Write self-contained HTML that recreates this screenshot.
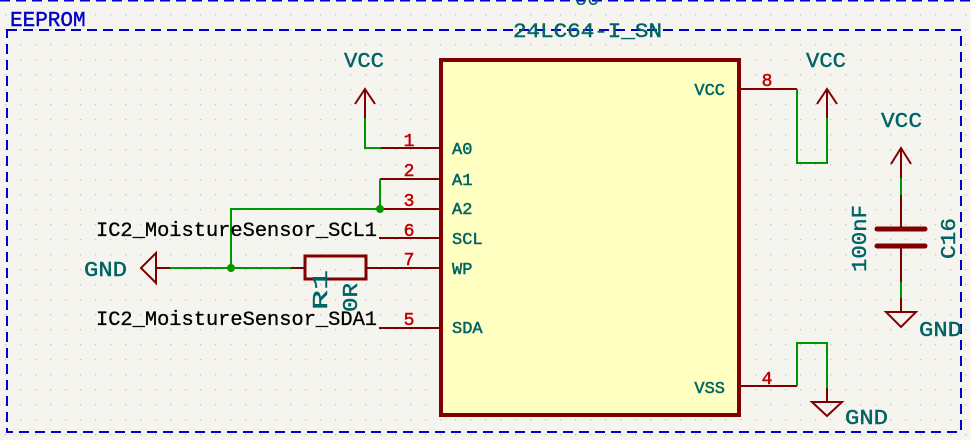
<!DOCTYPE html>
<html><head><meta charset="utf-8"><style>
html,body{margin:0;padding:0;background:#F5F4EF;}
svg{display:block;}
text{font-family:"Liberation Mono","DejaVu Sans Mono",monospace;}
</style></head><body>
<svg width="971" height="440" viewBox="0 0 971 440" xmlns="http://www.w3.org/2000/svg">
<defs>
<pattern id="g" x="5" y="14" width="15" height="15" patternUnits="userSpaceOnUse">
<rect x="0" y="0" width="1.3" height="1.3" fill="#c4c4c0"/>
</pattern>
</defs>
<rect width="971" height="440" fill="#F5F4EF"/>
<rect width="971" height="440" fill="url(#g)"/>
<line x1="0" y1="0.5" x2="971" y2="0.5" stroke="#0000c8" stroke-width="2" stroke-dasharray="10,6"/>
<rect x="7" y="30" width="954" height="402" fill="none" stroke="#0000c8" stroke-width="2" stroke-dasharray="10,6"/>
<text x="10" y="26" font-size="21" fill="#0000c8" stroke="#0000c8" stroke-width="0.4">EEPROM</text>
<rect x="441" y="60" width="298" height="355" fill="#FFFFC2" stroke="#800000" stroke-width="4"/>
<text x="575" y="5" font-size="20" fill="#006464">U6</text>
<text x="513" y="37" font-size="20" fill="#006464" stroke="#006464" stroke-width="0.4" textLength="149" lengthAdjust="spacingAndGlyphs">24LC64-I_SN</text>
<g stroke="#800000" stroke-width="2" fill="none">
<line x1="381" y1="148" x2="440" y2="148"/>
<line x1="380" y1="179" x2="440" y2="179"/>
<line x1="380" y1="209" x2="440" y2="209"/>
<line x1="379" y1="238" x2="440" y2="238"/>
<line x1="366" y1="268" x2="440" y2="268"/>
<line x1="379" y1="328" x2="440" y2="328"/>
<line x1="739" y1="89" x2="797" y2="89"/>
<line x1="739" y1="386" x2="797" y2="386"/>
<line x1="365" y1="89" x2="365" y2="118"/>
<polyline points="355,104 365,89 375,104"/>
<line x1="827" y1="89" x2="827" y2="118"/>
<polyline points="817,104 827,89 837,104"/>
<line x1="827" y1="388" x2="827" y2="402"/>
<polygon points="812,402 842,402 827,416"/>
<line x1="156" y1="268" x2="170" y2="268"/>
<polygon points="156,253 156,283 141,268"/>
<line x1="291" y1="268" x2="305" y2="268"/>
<rect x="305" y="256" width="61" height="23" stroke-width="3"/>
<line x1="901" y1="148" x2="901" y2="178"/>
<polyline points="891,164 901,148 911,164"/>
<line x1="901" y1="195" x2="901" y2="229"/>
<line x1="901" y1="246" x2="901" y2="282"/>
<line x1="901" y1="298" x2="901" y2="312"/>
<polygon points="886,312 916,312 901,327"/>
</g>
<g stroke="#800000" stroke-width="5" stroke-linecap="round">
<line x1="877" y1="229" x2="925" y2="229"/>
<line x1="877" y1="246" x2="925" y2="246"/>
</g>
<g stroke="#009600" stroke-width="2" fill="none">
<polyline points="365,118 365,148 381,148"/>
<polyline points="380,179 380,209"/>
<polyline points="380,209 231,209 231,268"/>
<line x1="170" y1="268" x2="291" y2="268"/>
<polyline points="797,89 797,163 827,163 827,118"/>
<polyline points="797,386 797,343 827,343 827,388"/>
<line x1="901" y1="178" x2="901" y2="195"/>
<line x1="901" y1="282" x2="901" y2="298"/>
</g>
<circle cx="380" cy="209" r="4" fill="#009600"/>
<circle cx="231" cy="268" r="4" fill="#009600"/>
<g fill="#c00000" stroke="#c00000" stroke-width="0.5" font-size="18" text-anchor="middle">
<text x="409" y="146">1</text>
<text x="409" y="176">2</text>
<text x="409" y="206">3</text>
<text x="409" y="236">6</text>
<text x="409" y="265">7</text>
<text x="409" y="325">5</text>
<text x="767" y="86">8</text>
<text x="767" y="384">4</text>
</g>
<g fill="#006464" stroke="#006464" stroke-width="0.5" font-size="17">
<text x="452" y="154">A0</text>
<text x="452" y="185">A1</text>
<text x="452" y="214">A2</text>
<text x="452" y="244">SCL</text>
<text x="452" y="274">WP</text>
<text x="452" y="333">SDA</text>
<text x="725" y="95" text-anchor="end">VCC</text>
<text x="725" y="393" text-anchor="end">VSS</text>
</g>
<g fill="#006464" stroke="#006464" stroke-width="0.4" font-size="21">
<text x="344" y="67" textLength="40" lengthAdjust="spacingAndGlyphs">VCC</text>
<text x="806" y="67" textLength="40" lengthAdjust="spacingAndGlyphs">VCC</text>
<text x="881" y="127" textLength="41" lengthAdjust="spacingAndGlyphs">VCC</text>
<text x="84" y="276" textLength="43" lengthAdjust="spacingAndGlyphs">GND</text>
<text x="845" y="424" textLength="43" lengthAdjust="spacingAndGlyphs">GND</text>
<text x="919" y="336" textLength="43" lengthAdjust="spacingAndGlyphs">GND</text>
<text transform="translate(866,272) rotate(-90)" textLength="67" lengthAdjust="spacingAndGlyphs">100nF</text>
<text transform="translate(955,259) rotate(-90)" textLength="41" lengthAdjust="spacingAndGlyphs">C16</text>
<text transform="translate(327,310) rotate(-90)" textLength="40" lengthAdjust="spacingAndGlyphs">R1</text>
<text transform="translate(357,312) rotate(-90)" textLength="29" lengthAdjust="spacingAndGlyphs">0R</text>
</g>
<g fill="#000" stroke="#000" stroke-width="0.3" font-size="20">
<text x="96" y="236" textLength="281" lengthAdjust="spacingAndGlyphs">IC2_MoistureSensor_SCL1</text>
<text x="96" y="325" textLength="281" lengthAdjust="spacingAndGlyphs">IC2_MoistureSensor_SDA1</text>
</g>
</svg>
</body></html>
